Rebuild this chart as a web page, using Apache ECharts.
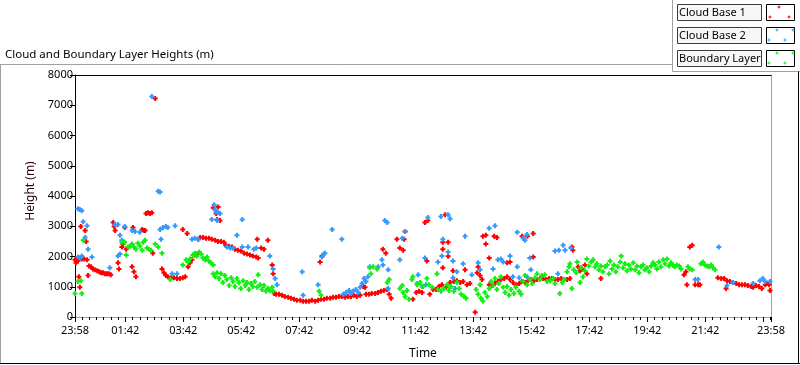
<!DOCTYPE html>
<html><head><meta charset="utf-8">
<script src="https://cdn.jsdelivr.net/npm/echarts@6/dist/echarts.min.js"></script>
<style>html,body{margin:0;padding:0;background:#fff;}#c{width:800px;height:365px;}</style>
</head><body><div id="c"></div>
<script>
// ---- data (x = minutes elapsed since 23:58, y = height in m) ----
const seriesNames = ['Cloud Base 1', 'Cloud Base 2', 'Boundary Layer'];
const tickLabels = ['23:58','01:42','03:42','05:42','07:42','09:42','11:42','13:42','15:42','17:42','19:42','21:42','23:58'];
const yTickMax = 8000;

const cloudBase1 = [[0,1890],[2,1790],[4,1890],[6,1850],[8,1330],[10,980],[12,2990],[14,1920],[19,1920],[21,2860],[23,2500],[25,1890],[27,1370],[29,1690],[33,1660],[37,1590],[41,1560],[46,1530],[50,1500],[54,1460],[58,1460],[62,1430],[66,1430],[70,1430],[74,1400],[79,3120],[81,2990],[83,2860],[89,1790],[91,1590],[97,2310],[99,2410],[103,2960],[106,2240],[118,1660],[120,2960],[122,1500],[126,1330],[139,2890],[143,2860],[145,2860],[147,3420],[151,3450],[155,3420],[159,3450],[161,2110],[166,7220],[180,1590],[184,1460],[188,1370],[192,1330],[199,1300],[205,1300],[211,1270],[217,1270],[223,1300],[223,2890],[228,1330],[232,2760],[234,1660],[238,1790],[242,1890],[248,2050],[252,2080],[255,2570],[259,2630],[265,2630],[271,2600],[277,2600],[283,2570],[286,3610],[290,2540],[292,3420],[294,3220],[296,3640],[296,2500],[300,3190],[302,2500],[308,2470],[312,2370],[319,2340],[325,2310],[331,2240],[337,2210],[343,2180],[350,2110],[356,2080],[362,2050],[368,2020],[375,1980],[377,2570],[379,1950],[385,2280],[391,2240],[399,2540],[408,1720],[410,1430],[412,780],[416,750],[422,750],[428,720],[434,680],[441,650],[447,620],[453,590],[459,550],[466,550],[472,520],[478,520],[484,520],[490,550],[497,520],[503,550],[507,1820],[509,590],[511,2020],[515,590],[521,620],[528,620],[534,650],[540,650],[546,680],[552,680],[559,650],[565,680],[571,680],[577,720],[583,680],[590,720],[596,1010],[600,980],[602,750],[608,750],[614,780],[621,780],[627,810],[633,850],[637,2240],[639,880],[643,2110],[646,910],[650,750],[654,620],[666,2570],[672,2280],[679,2210],[681,2570],[683,2830],[699,590],[706,810],[712,850],[718,810],[724,3120],[728,1850],[730,3190],[734,750],[741,910],[747,910],[753,1010],[759,1070],[761,2470],[761,2240],[761,1630],[766,3380],[768,980],[772,2470],[772,2010],[776,1140],[782,1530],[784,1170],[790,1200],[797,1140],[803,1170],[807,1560],[811,1070],[817,1110],[828,160],[832,1460],[834,1660],[838,1370],[842,1240],[844,2670],[850,2700],[850,2410],[857,1950],[857,1070],[863,1040],[867,2670],[869,1110],[873,2630],[875,1170],[881,1240],[888,1270],[894,1790],[894,1330],[900,1820],[900,1240],[906,1140],[912,1070],[919,1110],[925,2670],[925,1170],[931,1140],[936,2670],[937,1200],[943,1240],[948,2760],[948,1980],[950,1200],[956,1240],[962,1270],[968,1270],[975,1240],[981,1270],[987,1270],[993,1240],[999,1240],[1006,1270],[1012,1240],[1018,1240],[1024,1270],[1028,2310],[1030,2210],[1041,1660],[1045,1530],[1049,1590],[1055,1720],[1059,1430],[1088,1270],[1260,1400],[1264,1500],[1266,1070],[1272,2310],[1277,2370],[1283,1070],[1289,1070],[1293,1070],[1330,1300],[1337,1270],[1343,1270],[1347,940],[1349,1200],[1355,1170],[1361,1140],[1368,1110],[1374,1070],[1380,1070],[1386,1070],[1392,1040],[1399,1010],[1403,980],[1409,1040],[1415,1010],[1421,940],[1428,1070],[1432,1110],[1436,1070],[1438,880]];

const cloudBase2 = [[6,3580],[10,3550],[14,3510],[17,3150],[21,2630],[25,3020],[27,2240],[6,1980],[10,1950],[14,2020],[35,1980],[72,1630],[83,3060],[89,3060],[89,2020],[93,2080],[93,2700],[97,2540],[103,2990],[118,2860],[124,2830],[134,2800],[159,7290],[172,4160],[176,4130],[176,2890],[178,2570],[182,2960],[188,2990],[192,2960],[207,3020],[201,1430],[211,1430],[242,2570],[248,2600],[255,2570],[283,3220],[288,3710],[290,3550],[292,3480],[296,3450],[300,3420],[294,3190],[314,2310],[321,2280],[327,2280],[335,2700],[346,3220],[346,2310],[358,2310],[370,2240],[375,2280],[403,2020],[410,1590],[414,1270],[418,1070],[470,1500],[472,720],[503,1070],[511,1980],[515,2080],[517,2110],[532,2890],[552,2570],[555,750],[561,810],[567,880],[571,780],[575,850],[581,910],[586,810],[590,980],[594,1110],[598,1270],[602,1170],[606,1330],[610,1660],[627,1660],[635,1890],[637,1720],[641,3190],[646,3120],[648,1560],[648,940],[672,1890],[677,2600],[683,2830],[708,1110],[710,1400],[718,1010],[724,1950],[726,1070],[730,3290],[751,1820],[757,3320],[759,2020],[761,2570],[772,3380],[776,3250],[772,2150],[782,1850],[782,1300],[786,940],[790,1500],[803,1760],[807,2670],[821,1400],[834,1790],[838,1560],[857,2930],[865,1590],[869,3020],[875,1890],[881,1920],[886,1820],[900,2020],[906,1330],[915,2800],[915,1660],[919,1300],[927,2600],[931,2540],[935,2730],[935,1330],[941,1950],[943,1560],[993,2180],[1001,2210],[1010,2370],[1014,2210],[1026,2280],[999,1430],[1283,1240],[1289,1240],[1332,2310],[1349,1040],[1361,1140],[1403,1110],[1417,1200],[1423,1270],[1428,1170],[1438,1170]];

const boundaryLayer = [[0,780],[6,1170],[12,1200],[14,780],[17,2540],[97,2470],[103,2470],[106,2050],[110,2310],[114,2340],[118,2410],[122,2310],[126,2240],[130,2440],[134,2340],[139,2210],[141,2470],[145,2540],[149,2280],[153,2240],[157,2210],[166,2410],[172,2310],[180,2110],[197,1240],[223,1720],[230,1890],[234,1820],[238,1920],[244,2050],[248,2110],[252,2020],[257,2150],[261,2080],[265,1950],[269,1890],[273,1980],[277,1850],[281,1790],[286,1720],[286,1430],[290,1330],[294,1460],[298,1270],[302,1430],[306,1140],[310,1370],[314,1240],[319,1040],[323,1300],[327,1170],[331,1010],[335,1270],[339,1140],[343,940],[348,1200],[352,1040],[356,1140],[360,910],[364,1110],[368,1010],[372,1170],[377,980],[379,1400],[383,1070],[387,910],[391,1040],[395,850],[399,940],[403,880],[408,980],[410,850],[505,850],[509,720],[610,1630],[617,1660],[625,1590],[612,1430],[646,1140],[650,1240],[672,940],[677,1040],[679,810],[683,680],[687,880],[691,590],[697,1240],[699,1330],[708,1070],[714,1140],[720,1010],[728,1270],[732,1070],[739,980],[749,1430],[751,910],[757,850],[763,940],[770,1070],[774,880],[778,1010],[784,850],[790,1140],[795,940],[799,750],[805,680],[809,620],[830,910],[834,750],[838,1070],[840,620],[844,520],[848,810],[853,680],[857,940],[861,1170],[865,1040],[869,1270],[873,910],[877,1110],[881,1330],[886,980],[890,810],[894,1010],[898,720],[902,910],[908,780],[912,980],[919,850],[923,750],[927,1170],[931,1370],[935,1070],[941,1240],[946,1110],[952,1300],[956,1430],[962,1240],[966,1370],[972,1400],[977,1170],[983,1200],[989,1270],[993,1110],[1003,780],[1008,1140],[1012,1240],[1018,1500],[1022,1660],[1024,1760],[1028,940],[1032,1560],[1037,1460],[1039,1820],[1045,1140],[1047,1630],[1051,1330],[1055,1530],[1059,1920],[1063,1690],[1068,1820],[1072,1890],[1076,1660],[1080,1760],[1084,1560],[1088,1690],[1092,1500],[1097,1660],[1101,1720],[1105,1430],[1107,1850],[1111,1590],[1115,1720],[1119,1500],[1123,1660],[1128,1820],[1130,2020],[1134,1630],[1138,1760],[1142,1530],[1146,1720],[1150,1590],[1155,1790],[1159,1560],[1163,1690],[1167,1460],[1171,1660],[1175,1720],[1179,1560],[1183,1630],[1188,1500],[1192,1690],[1196,1790],[1200,1720],[1204,1590],[1208,1820],[1212,1660],[1217,1890],[1221,1760],[1225,1920],[1229,1690],[1233,1790],[1237,1720],[1241,1660],[1245,1720],[1250,1690],[1254,1590],[1268,1660],[1272,1590],[1277,1560],[1295,1760],[1299,1820],[1303,1720],[1308,1690],[1312,1660],[1316,1720],[1320,1630],[1324,1560]];

// ---- chart ----
const FONT = "'Noto Sans', 'DejaVu Sans', sans-serif";
const colors = ['#ff0000', '#3399ff', '#11ee11'];
const PLUS = 'path://M3,0H7V10H3Z M0,3H10V7H0Z';

function clockToOffset(s, i) {
  const p = s.split(':');
  const m = (+p[0]) * 60 + (+p[1]);
  let v = (m - (23 * 60 + 58) + 1440) % 1440;
  if (i > 0 && v === 0) v = 1440;
  return v;
}
const labelValues = tickLabels.map(clockToOffset);
const labelMap = {};
labelValues.forEach((v, i) => { labelMap[v] = tickLabels[i]; });
const majorTicks = labelValues.concat([1424]);
const minorTicks = [];
for (let v = 14; v < 1440; v += 15) minorTicks.push(v);

const chart = echarts.init(document.getElementById('c'), null, {renderer: 'canvas'});

const graphic = [];
function ln(x1, y1, x2, y2, c) {
  graphic.push({type: 'line', silent: true, z: 100, shape: {x1, y1, x2, y2}, style: {stroke: c, lineWidth: 1}});
}
ln(0, 64.5, 672.5, 64.5, '#a0a0a0');
ln(672.5, 0, 672.5, 71.5, '#a0a0a0');
ln(672.5, 71.5, 800, 71.5, '#a0a0a0');
ln(0.5, 64.5, 0.5, 364, '#a0a0a0');
ln(0, 363.5, 800, 363.5, '#000');
ln(798.5, 71.5, 798.5, 364, '#000');

graphic.push({type: 'text', x: 5, y: 55, silent: true,
  style: {text: 'Cloud and Boundary Layer Heights (m)', font: '11.5px ' + FONT, fill: '#000', verticalAlign: 'middle'}});
graphic.push({type: 'text', x: 31, y: 191, rotation: Math.PI / 2, silent: true,
  style: {text: 'Height (m)', font: '12px ' + FONT, fill: '#2a0010', align: 'center', verticalAlign: 'middle'}});

const legendPlus = [
  [[779, 7], [770, 17], [789, 17]],
  [[777, 30], [793, 30], [769, 40], [785, 40]],
  [[777, 53], [793, 53], [769, 63], [785, 63]]
];
seriesNames.forEach((name, i) => {
  const y0 = 4 + 23 * i;
  graphic.push({type: 'rect', silent: true, shape: {x: 677.5, y: y0 + 0.5, width: 84, height: 16},
    style: {fill: '#f7f7f7', stroke: '#3c3c3c', lineWidth: 1}});
  graphic.push({type: 'text', silent: true, x: 679, y: y0 + 9,
    style: {text: name, font: '11px ' + FONT, fill: '#000', verticalAlign: 'middle'}});
  graphic.push({type: 'rect', silent: true, shape: {x: 766.5, y: y0 + 0.5, width: 28, height: 16},
    style: {fill: '#fff', stroke: '#000', lineWidth: 1}});
  legendPlus[i].forEach(p => {
    graphic.push({type: 'rect', silent: true, shape: {x: p[0] - 1.5, y: p[1] - 0.5, width: 3, height: 1}, style: {fill: colors[i]}});
    graphic.push({type: 'rect', silent: true, shape: {x: p[0] - 0.5, y: p[1] - 1.5, width: 1, height: 3}, style: {fill: colors[i]}});
  });
});

const option = {
  animation: false,
  backgroundColor: '#fff',
  textStyle: {fontFamily: FONT},
  grid: {left: 75, top: 75, right: 29, bottom: 43, containLabel: false},
  xAxis: [
    {
      type: 'value', min: 0, max: 1440, position: 'bottom',
      axisLine: {show: true, onZero: false, lineStyle: {color: '#a0a0a0'}},
      axisTick: {show: true, length: 5, customValues: majorTicks, lineStyle: {color: '#000'}},
      axisLabel: {show: true, customValues: labelValues, formatter: v => labelMap[v] || '', fontSize: 11, color: '#000', margin: 8, fontFamily: FONT},
      splitLine: {show: false},
      name: 'Time', nameLocation: 'middle', nameGap: 31,
      nameTextStyle: {fontSize: 12, color: '#000', fontFamily: FONT}
    },
    {
      type: 'value', min: 0, max: 1440, position: 'bottom',
      axisLine: {show: false, onZero: false},
      axisTick: {show: true, length: 3, customValues: minorTicks, lineStyle: {color: '#000'}},
      axisLabel: {show: false},
      splitLine: {show: false}
    },
    {
      type: 'value', min: 0, max: 1440, position: 'top',
      axisLine: {show: true, onZero: false, lineStyle: {color: '#000'}},
      axisTick: {show: false}, axisLabel: {show: false}, splitLine: {show: false}
    }
  ],
  yAxis: [
    {
      type: 'value', min: 0, max: yTickMax, interval: 1000, position: 'left',
      axisLine: {show: true, onZero: false, lineStyle: {color: '#000'}},
      axisTick: {show: true, length: 5, lineStyle: {color: '#000'}},
      axisLabel: {fontSize: 11, color: '#000', margin: 2, fontFamily: FONT, formatter: v => String(v)},
      splitLine: {show: false}
    },
    {
      type: 'value', min: 0, max: yTickMax, position: 'right',
      axisLine: {show: true, onZero: false, lineStyle: {color: '#a0a0a0'}},
      axisTick: {show: false}, axisLabel: {show: false}, splitLine: {show: false}
    }
  ],
  series: [cloudBase1, cloudBase2, boundaryLayer].map((d, i) => ({
    name: seriesNames[i], type: 'scatter', data: d,
    xAxisIndex: 0, yAxisIndex: 0,
    symbol: PLUS, symbolSize: 5, silent: true,
    itemStyle: {color: colors[i], opacity: 1}
  })),
  graphic: graphic
};
chart.setOption(option);
</script>
</body></html>
